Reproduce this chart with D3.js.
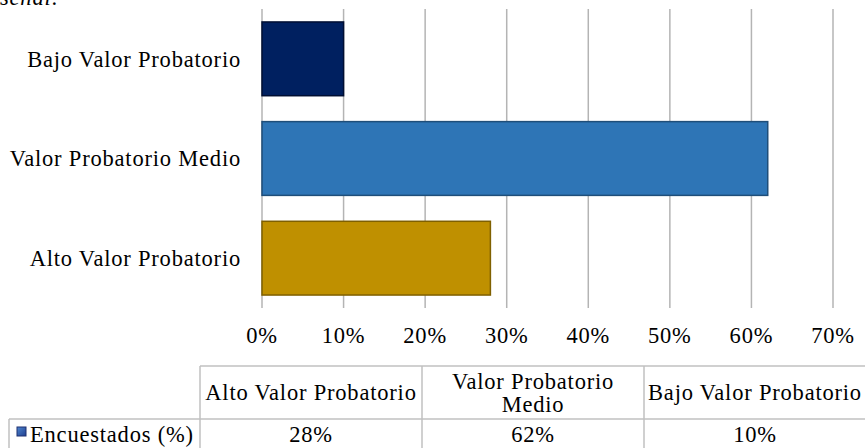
<!DOCTYPE html>
<html>
<head>
<meta charset="utf-8">
<script src="https://cdn.jsdelivr.net/npm/d3@7"></script>
<style>
body { margin: 0; background: #fff; }
</style>
</head>
<body>
<script>
var width = 865;
var height = 448;
var fontFam = "'Liberation Serif', 'DejaVu Serif', serif";
var fs = 22.5;

// data
var categories = ["Alto Valor Probatorio", "Valor Probatorio Medio", "Bajo Valor Probatorio"];
var values = [28, 62, 10];
var barColors = ["#BF9000", "#2E75B6", "#002060"];
var barStrokes = ["#7F6000", "#1F4E79", "#000F33"];
var tickValues = [0, 10, 20, 30, 40, 50, 60, 70];
var tableHeaders = [["Alto Valor Probatorio"], ["Valor Probatorio", "Medio"], ["Bajo Valor Probatorio"]];
var seriesName = "Encuestados (%)";

var svg = d3.select("body")
    .append("svg")
    .attr("width", width)
    .attr("height", height)
    .style("font-family", fontFam)
    .style("letter-spacing", "0.8px");

// cut-off caption at the very top
svg.append("text")
    .attr("x", 0)
    .attr("y", 5)
    .attr("font-size", fs)
    .attr("font-style", "italic")
    .text("señal:");

var plotLeft = 262, plotRight = 833, plotTop = 9, plotBottom = 308;

var x = d3.scaleLinear().domain([0, 70]).range([plotLeft, plotRight]);
var y = d3.scaleBand()
    .domain(categories.slice().reverse())
    .range([plotTop, plotBottom])
    .paddingInner(0.26)
    .paddingOuter(0.13);

// gridlines
svg.selectAll("line.grid")
    .data(tickValues)
    .enter().append("line")
    .attr("class", "grid")
    .attr("x1", function(d) { return x(d); })
    .attr("x2", function(d) { return x(d); })
    .attr("y1", plotTop)
    .attr("y2", plotBottom)
    .attr("stroke", "#B4B4B4")
    .attr("stroke-width", 1.5);

// bars
svg.selectAll("rect.bar")
    .data(values)
    .enter().append("rect")
    .attr("class", "bar")
    .attr("x", x(0))
    .attr("y", function(d, i) { return y(categories[i]); })
    .attr("width", function(d) { return x(d) - x(0); })
    .attr("height", y.bandwidth())
    .attr("fill", function(d, i) { return barColors[i]; })
    .attr("stroke", function(d, i) { return barStrokes[i]; })
    .attr("stroke-width", 1.5);

// category labels
svg.selectAll("text.cat")
    .data(categories)
    .enter().append("text")
    .attr("class", "cat")
    .attr("x", 241)
    .attr("y", function(d) { return y(d) + y.bandwidth() / 2; })
    .attr("dy", "0.35em")
    .attr("text-anchor", "end")
    .attr("font-size", fs)
    .text(function(d) { return d; });

// x tick labels
svg.selectAll("text.tick")
    .data(tickValues)
    .enter().append("text")
    .attr("class", "tick")
    .attr("x", function(d) { return x(d); })
    .attr("y", 335)
    .attr("dy", "0.35em")
    .attr("text-anchor", "middle")
    .attr("font-size", fs)
    .text(function(d) { return d + "%"; });

// data table
var tableLeft = 200, colW = 222, rowTop = 366, rowMid = 419, rowBottom = 449, headLeft = 9;
var col = d3.scaleBand().domain(categories).range([tableLeft, tableLeft + colW * 3]);
var gridColor = "#C0C0C0";

var tbl = svg.append("g");
tbl.append("line").attr("x1", tableLeft).attr("x2", width).attr("y1", rowTop).attr("y2", rowTop);
tbl.append("line").attr("x1", headLeft).attr("x2", width).attr("y1", rowMid).attr("y2", rowMid);
tbl.append("line").attr("x1", headLeft).attr("x2", headLeft).attr("y1", rowMid).attr("y2", rowBottom);
tbl.selectAll("line.col")
    .data(categories)
    .enter().append("line")
    .attr("class", "col")
    .attr("x1", function(d) { return col(d); })
    .attr("x2", function(d) { return col(d); })
    .attr("y1", rowTop)
    .attr("y2", rowBottom);
tbl.selectAll("line").attr("stroke", gridColor).attr("stroke-width", 1.5);

// header texts
tableHeaders.forEach(function(lines, i) {
    var cx = col(categories[i]) + col.bandwidth() / 2;
    var cy = (rowTop + rowMid) / 2;
    var lh = 23;
    lines.forEach(function(t, j) {
        tbl.append("text")
            .attr("x", cx)
            .attr("y", cy + (j - (lines.length - 1) / 2) * lh)
            .attr("dy", "0.35em")
            .attr("text-anchor", "middle")
            .attr("font-size", fs)
            .text(t);
    });
});

// values row
tbl.selectAll("text.val")
    .data(values)
    .enter().append("text")
    .attr("class", "val")
    .attr("x", function(d, i) { return col(categories[i]) + col.bandwidth() / 2; })
    .attr("y", 434)
    .attr("dy", "0.35em")
    .attr("text-anchor", "middle")
    .attr("font-size", fs)
    .text(function(d) { return d + "%"; });

// legend key + series name
var grad = svg.append("defs").append("linearGradient")
    .attr("id", "keyGrad").attr("x1", 0).attr("y1", 0).attr("x2", 1).attr("y2", 1);
grad.append("stop").attr("offset", "0%").attr("stop-color", "#4F86D0");
grad.append("stop").attr("offset", "100%").attr("stop-color", "#1F3F8F");
tbl.append("rect")
    .attr("x", 17).attr("y", 427)
    .attr("width", 9).attr("height", 9)
    .attr("fill", "url(#keyGrad)")
    .attr("stroke", "#1F3070")
    .attr("stroke-width", 1);
tbl.append("text")
    .attr("x", 30)
    .attr("y", 434)
    .attr("dy", "0.35em")
    .attr("font-size", fs)
    .text(seriesName);
</script>
</body>
</html>
